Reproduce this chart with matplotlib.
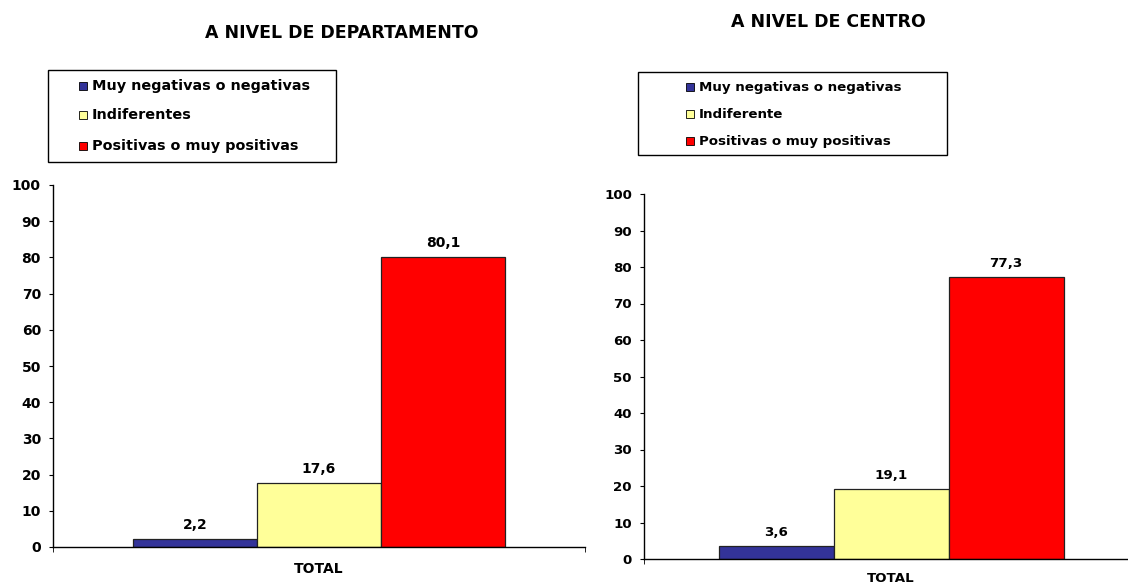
import matplotlib.pyplot as plt
from matplotlib.patches import Rectangle

# data
categories = ["TOTAL"]
dept_labels = ["Muy negativas o negativas", "Indiferentes", "Positivas o muy positivas"]
dept_values = [2.2, 17.6, 80.1]
centro_labels = ["Muy negativas o negativas", "Indiferente", "Positivas o muy positivas"]
centro_values = [3.6, 19.1, 77.3]
colors = ["#333399", "#FFFF99", "#FF0000"]
yticks = [0, 10, 20, 30, 40, 50, 60, 70, 80, 90, 100]

W, H = 1128, 585
fig = plt.figure(figsize=(W / 100, H / 100), dpi=100)
plt.rcParams['font.family'] = ['DejaVu Sans']


def px_axes(x0, y_top, x1, y_bottom):
    return fig.add_axes([x0 / W, 1 - y_bottom / H, (x1 - x0) / W, (y_bottom - y_top) / H])


def draw_chart(ax, values, xlim, end_ticks, fs, total_pad):
    offsets = [-1, 0, 1]
    for off, v, c in zip(offsets, values, colors):
        ax.bar(off, v, width=1, color=c, edgecolor="#222222", linewidth=0.9)
        ax.annotate(f"{v:.1f}".replace(".", ","), (off, v), xytext=(0, 5),
                    textcoords="offset points", ha="center", va="bottom",
                    fontsize=fs, fontweight="bold")
    ax.set_xlim(*xlim)
    ax.set_ylim(0, 100)
    ax.set_yticks(yticks)
    ax.set_xticks([0], labels=categories)
    ax.set_xticks(end_ticks, minor=True)
    ax.tick_params(axis="x", which="major", length=0, pad=total_pad, labelsize=fs)
    ax.tick_params(axis="x", which="minor", length=3.5, direction="out")
    ax.tick_params(axis="y", length=3.2, direction="out", pad=5.5, labelsize=fs)
    for lab in ax.get_xticklabels() + ax.get_yticklabels():
        lab.set_fontweight("bold")
    for s in ["top", "right"]:
        ax.spines[s].set_visible(False)
    for s in ["left", "bottom"]:
        ax.spines[s].set_linewidth(1.0)


def draw_legend(x0, y0, x1, y1, text_x, rows_y, labels, fs):
    fig.patches.append(Rectangle((x0 / W, 1 - y1 / H), (x1 - x0) / W, (y1 - y0) / H,
                                 transform=fig.transFigure, fill=False,
                                 edgecolor="black", linewidth=1.0))
    for y, lab, c in zip(rows_y, labels, colors):
        fig.patches.append(Rectangle(((text_x - 13) / W, 1 - (y + 4) / H), 8 / W, 8 / H,
                                     transform=fig.transFigure, facecolor=c,
                                     edgecolor="black", linewidth=0.6))
        fig.text(text_x / W, 1 - y / H, lab, ha="left", va="center",
                 fontsize=fs, fontweight="bold")


# left chart: A NIVEL DE DEPARTAMENTO
ax1 = px_axes(53, 185, 585, 547)
lim1 = ((53 - 319) / 124, (585 - 319) / 124)
draw_chart(ax1, dept_values, lim1, list(lim1), 10, 11)
fig.text(342 / W, 1 - 33 / H, "A NIVEL DE DEPARTAMENTO", ha="center", va="center",
         fontsize=12.5, fontweight="bold")
draw_legend(48, 70, 336, 162, 92, [86, 115, 146], dept_labels, 10.4)

# right chart: A NIVEL DE CENTRO
ax2 = px_axes(644, 194, 1128, 559)
lim2 = ((644 - 891) / 115, (1128 - 891) / 115)
draw_chart(ax2, centro_values, lim2, [lim2[0]], 9.6, 9.5)
fig.text(828 / W, 1 - 22 / H, "A NIVEL DE CENTRO", ha="center", va="center",
         fontsize=12.5, fontweight="bold")
draw_legend(638, 72, 947, 155, 699, [87, 114, 141], centro_labels, 9.6)

fig.savefig("out.png", dpi=100)
